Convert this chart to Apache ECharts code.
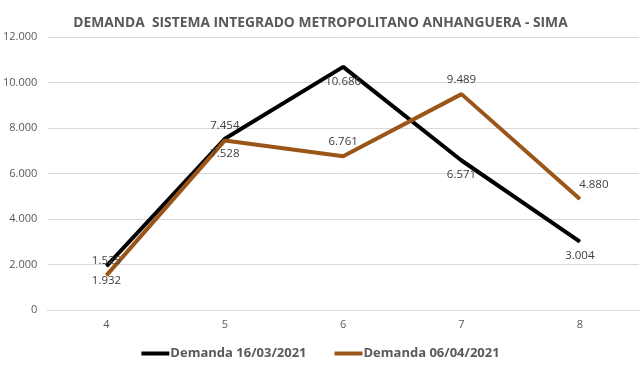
<!DOCTYPE html>
<html>
<head>
<meta charset="utf-8">
<script src="https://cdn.jsdelivr.net/npm/echarts@6/dist/echarts.min.js"></script>
<style>
  html, body { margin: 0; padding: 0; background: #fff; }
  #chart { width: 641px; height: 377px; }
</style>
</head>
<body>
<div id="chart"></div>
<script>
const categories = ['4', '5', '6', '7', '8'];
const demanda1603 = [1932, 7528, 10686, 6571, 3004];
const demanda0604 = [1525, 7454, 6761, 9489, 4880];
const seriesNames = ['Demanda 16/03/2021', 'Demanda 06/04/2021'];

const fmt = (v) => v.toLocaleString('de-DE');
const textColor = '#595959';
const fontFamily = '"Open Sans", "Liberation Sans", sans-serif';

const myChart = echarts.init(document.getElementById('chart'));

const option = {
    animation: false,
    title: {
        text: 'DEMANDA  SISTEMA INTEGRADO METROPOLITANO ANHANGUERA - SIMA',
        left: 'center',
        top: 11,
        textStyle: {
            color: textColor,
            fontSize: 13.8,
            fontWeight: 'bold',
            fontFamily
        }
    },
    legend: {
        bottom: 12,
        left: 'center',
        itemWidth: 28,
        itemHeight: 4,
        itemGap: 28,
        icon: 'rect',
        textStyle: {
            color: textColor,
            fontSize: 13,
            fontWeight: 'bold',
            fontFamily,
            padding: [0, 0, 0, -4]
        },
        data: seriesNames
    },
    grid: {
        left: 47,
        right: 2,
        top: 37,
        bottom: 67
    },
    xAxis: {
        type: 'category',
        data: categories,
        boundaryGap: true,
        axisLine: { lineStyle: { color: '#d9d9d9' } },
        axisTick: { show: false },
        axisLabel: { color: textColor, fontSize: 11, fontFamily, margin: 9 }
    },
    yAxis: {
        type: 'value',
        min: 0,
        max: 12000,
        interval: 2000,
        axisLine: { show: false },
        axisTick: { show: false },
        splitLine: { lineStyle: { color: '#d9d9d9' } },
        axisLabel: {
            color: textColor,
            fontSize: 11,
            fontFamily,
            margin: 10,
            formatter: (v) => fmt(v)
        }
    },
    series: [
        {
            name: seriesNames[0],
            type: 'line',
            data: demanda1603,
            symbol: 'circle',
            symbolSize: 1,
            showSymbol: true,
            lineStyle: { color: '#000000', width: 4 },
            itemStyle: { color: '#000000' },
            label: {
                show: true,
                position: 'bottom',
                distance: 8,
                color: '#404040',
                fontSize: 11.5,
                fontFamily,
                formatter: (p) => fmt(p.value)
            }
        },
        {
            name: seriesNames[1],
            type: 'line',
            data: demanda0604.map((v, i) =>
                i === demanda0604.length - 1
                    ? { value: v, label: { offset: [14, 0] } }
                    : v),
            symbol: 'circle',
            symbolSize: 1,
            showSymbol: true,
            lineStyle: { color: '#9c5518', width: 4 },
            itemStyle: { color: '#9c5518' },
            label: {
                show: true,
                position: 'top',
                distance: 8,
                color: '#404040',
                fontSize: 11.5,
                fontFamily,
                formatter: (p) => fmt(p.value)
            }
        }
    ]
};

myChart.setOption(option);
</script>
</body>
</html>
